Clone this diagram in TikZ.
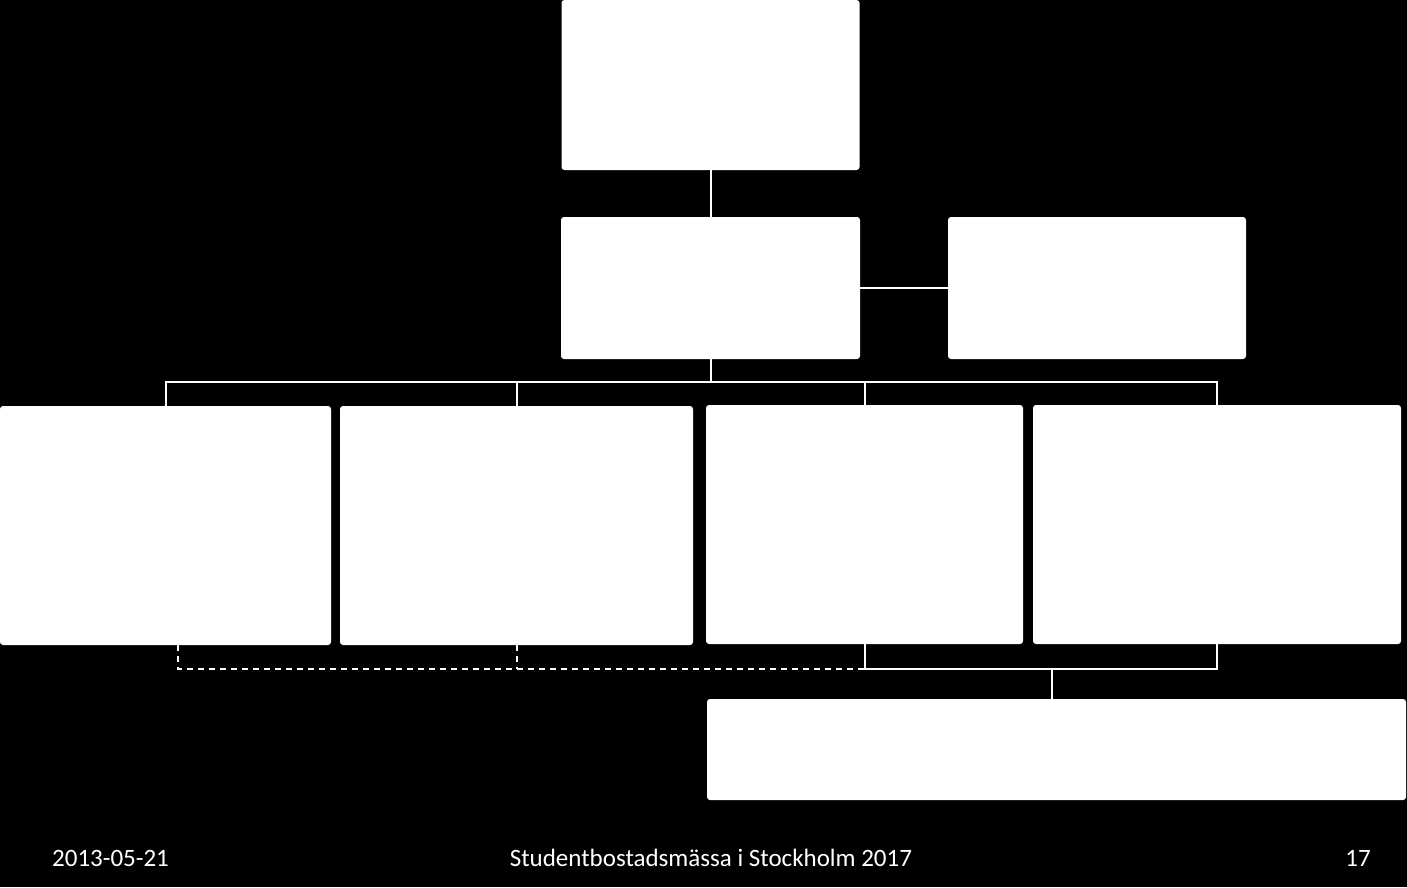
\documentclass[tikz,border=0pt]{standalone}
\usepackage{fontspec}
\setmainfont{Carlito}
\begin{document}
\begin{tikzpicture}[x=1pt,y=-1pt,
  box/.style={fill=white,draw=none,rounded corners=3pt,inner sep=0pt,outer sep=0pt},
  link/.style={draw=white,line width=2pt},
  dlink/.style={draw=white,line width=2pt,dash pattern=on 6pt off 5pt},
  foot/.style={text=white,font=\fontsize{25}{30}\selectfont,inner sep=0pt}]
\fill[black] (0,0) rectangle (1407,887);
\useasboundingbox (0,0) rectangle (1407,887);
% boxes
\node[box,minimum width=298pt,minimum height=170pt] (top) at (710.5,85) {};
\node[box,minimum width=299pt,minimum height=142pt] (mid) at (710.5,288) {};
\node[box,minimum width=298pt,minimum height=142pt] (right) at (1097,288) {};
\node[box,minimum width=331pt,minimum height=239pt] (b1) at (165.5,525.5) {};
\node[box,minimum width=353pt,minimum height=239pt] (b2) at (516.5,525.5) {};
\node[box,minimum width=317pt,minimum height=239pt] (b3) at (864.5,524.5) {};
\node[box,minimum width=368pt,minimum height=239pt] (b4) at (1217,524.5) {};
\node[box,minimum width=699pt,minimum height=101pt] (bot) at (1056.5,749.5) {};
% junction coordinates
\coordinate (hb) at (710.5,382);
\coordinate (lb) at (1052,669);
\coordinate (dl) at (178,645);
% connectors
\draw[link] (top) -- (mid);
\draw[link] (mid) -- (right);
\draw[link] (mid.south) -- (hb);
\draw[link] (b1.north) |- (hb) -| (b4.north);
\draw[link] (b2.north) -- (b2.north |- hb);
\draw[link] (b3.north) -- (b3.north |- hb);
\draw[link] (b3.south) |- (lb) -| (b4.south);
\draw[link] (lb) -- (lb |- bot.north);
\draw[dlink] (dl) |- (b3.south |- lb);
\draw[dlink] (b2.south) -- (b2.south |- lb);
% footer
\node[foot,anchor=base west] (date) at (52,866) {2013-05-21};
\node[foot,anchor=base] (title) at (711,866) {Studentbostadsmässa i Stockholm 2017};
\node[foot,anchor=base east] (num) at (1371,866) {17};
\end{tikzpicture}
\end{document}
